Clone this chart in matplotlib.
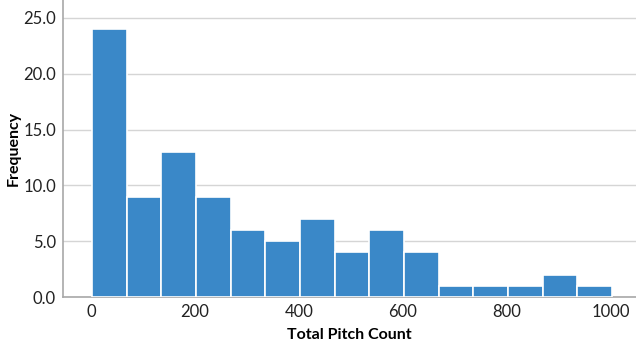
import matplotlib.pyplot as plt

# Histogram counts (15 bins)
counts = [24, 9, 13, 9, 6, 5, 7, 4, 6, 4, 1, 1, 1, 2, 1]
bin_start = 2
bin_width = 66.7
x_ticks = [0, 200, 400, 600, 800, 1000]
y_ticks = [0, 5, 10, 15, 20, 25]

plt.rcParams['font.family'] = ['Lato', 'DejaVu Sans']

fig = plt.figure(figsize=(6.36, 3.44), dpi=100)
ax = fig.add_axes([0.099, 0.1366, 0.901, 0.8634])

lefts = [bin_start + i * bin_width for i in range(len(counts))]
ax.bar(lefts, counts, width=bin_width, align='edge', color='#3a88c8',
       edgecolor='white', linewidth=1.2, zorder=3)

ax.set_xlim(-54, 1049)
ax.set_ylim(0, 26.6)
ax.set_xticks(x_ticks)
ax.set_yticks(y_ticks)
ax.set_yticklabels([f'{v:.1f}' for v in y_ticks])
ax.tick_params(length=0, labelsize=12, colors='#222222', pad=5)

ax.yaxis.grid(True, color='#d5d5d5', linewidth=1, zorder=0)
for s in ['top', 'right']:
    ax.spines[s].set_visible(False)
for s in ['left', 'bottom']:
    ax.spines[s].set_color('#a8a8a8')
    ax.spines[s].set_linewidth(1.2)

ax.set_xlabel('Total Pitch Count', fontsize=11.5, fontweight='bold', labelpad=6)
ax.set_ylabel('Frequency', fontsize=11.5, fontweight='bold')
ax.yaxis.set_label_coords(-0.074, 0.5)

fig.savefig('out.png', dpi=100)
